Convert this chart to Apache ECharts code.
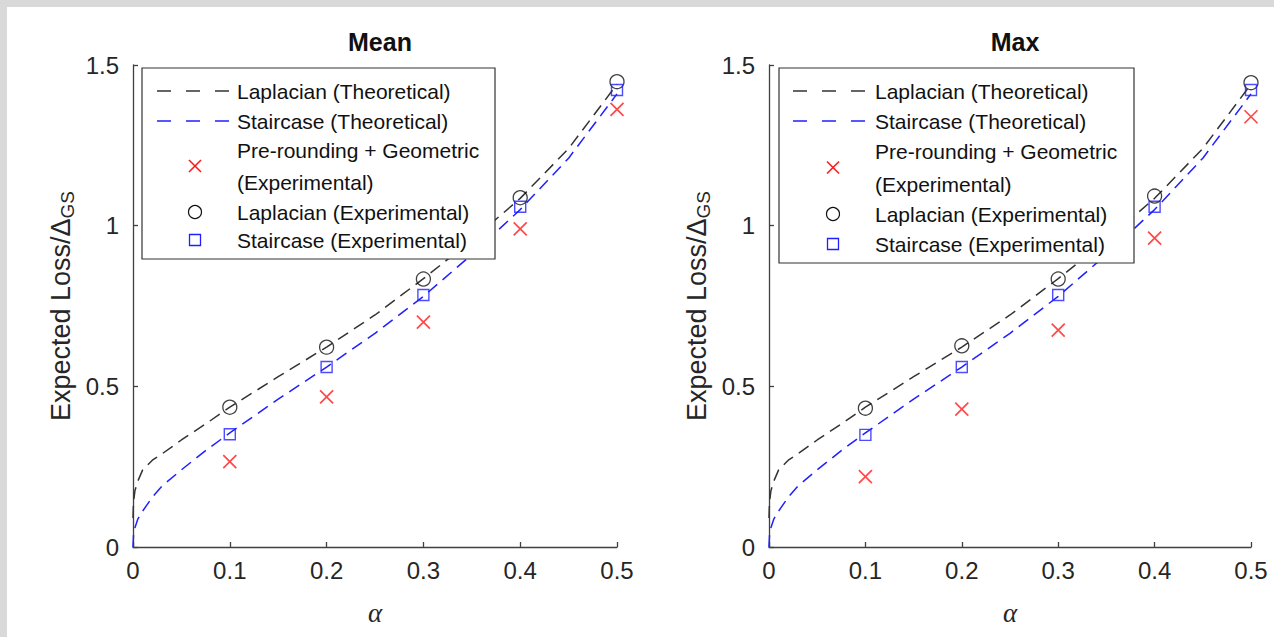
<!DOCTYPE html>
<html>
<head>
<meta charset="utf-8">
<script src="https://cdn.jsdelivr.net/npm/echarts@6/dist/echarts.min.js"></script>
<style>
  html, body { margin: 0; padding: 0; background: #d9d9d9; width: 1274px; height: 637px; overflow: hidden; }
  #chart { position: absolute; left: 7px; top: 7px; width: 1267px; height: 630px; background: #ffffff; }
</style>
</head>
<body>
<div id="chart"></div>
<script>
// ---------------- data ----------------
const xTicks = [0, 0.1, 0.2, 0.3, 0.4, 0.5];
const yTicks = [0, 0.5, 1, 1.5];
const panelTitles = ['Mean', 'Max'];

// theoretical curves
const alphaTheory = [0, 0.0005, 0.002, 0.005, 0.01, 0.02, 0.03, 0.05, 0.075, 0.1, 0.15, 0.2, 0.25, 0.3, 0.35, 0.4, 0.45, 0.5];
const laplacianTheory = [0.09, 0.14, 0.175, 0.205, 0.24, 0.27, 0.29, 0.333, 0.383, 0.435, 0.53, 0.622, 0.722, 0.835, 0.955, 1.085, 1.24, 1.44];
const staircaseTheory = [0, 0.035, 0.06, 0.087, 0.112, 0.155, 0.19, 0.24, 0.3, 0.355, 0.46, 0.56, 0.665, 0.78, 0.91, 1.05, 1.21, 1.41];

// experimental points
const alphaExp = [0.1, 0.2, 0.3, 0.4, 0.5];
const meanPreRounding = [0.266, 0.467, 0.700, 0.990, 1.362];
const meanLaplacian = [0.435, 0.622, 0.834, 1.087, 1.448];
const meanStaircase = [0.351, 0.560, 0.784, 1.059, 1.422];
const maxPreRounding = [0.219, 0.429, 0.675, 0.961, 1.339];
const maxLaplacian = [0.432, 0.626, 0.834, 1.092, 1.445];
const maxStaircase = [0.349, 0.560, 0.784, 1.059, 1.422];

const legendNames = ['Laplacian (Theoretical)', 'Staircase (Theoretical)', 'Pre-rounding + Geometric', '(Experimental)', 'Laplacian (Experimental)', 'Staircase (Experimental)'];

// ---------------- styling ----------------
const FONT = '"Liberation Sans", Arial, Helvetica, sans-serif';
const AX = '#404040';
const TXT = '#262626';
const BLACK = '#333333';
const BLUE = '#2020ff';
const RED = '#ff1a1a';

const zip = (xs, ys) => xs.map((x, i) => [x, ys[i]]);

const grids = [
  { left: 126, top: 58, width: 484, height: 482 },
  { left: 762, top: 58, width: 482, height: 482 }
];

const xAxes = grids.map((g, i) => ({
  type: 'value', gridIndex: i, min: 0, max: 0.5, interval: 0.1,
  name: 'α', nameLocation: 'middle', nameGap: 52,
  nameTextStyle: { fontFamily: '"Liberation Serif", "DejaVu Serif", serif', fontStyle: 'italic', fontSize: 27, color: TXT },
  axisLine: { show: true, lineStyle: { color: AX, width: 1.3 } },
  axisTick: { show: true, inside: true, length: 5, lineStyle: { color: AX, width: 1.3 } },
  axisLabel: { fontFamily: FONT, fontSize: 24, color: TXT, margin: 11, formatter: v => String(+v.toFixed(1)) },
  splitLine: { show: false }
}));

const yAxes = grids.map((g, i) => ({
  type: 'value', gridIndex: i, min: 0, max: 1.5, interval: 0.5,
  name: '{a|Expected Loss/Δ}{b|GS}', nameLocation: 'middle', nameGap: 56, nameRotate: 90,
  nameTextStyle: {
    color: TXT,
    rich: {
      a: { fontFamily: FONT, fontSize: 27, color: TXT, lineHeight: 32, verticalAlign: 'middle' },
      b: { fontFamily: FONT, fontSize: 19, color: TXT, lineHeight: 32, verticalAlign: 'bottom', padding: [13, 0, 0, 0] }
    }
  },
  axisLine: { show: true, lineStyle: { color: AX, width: 1.3 } },
  axisTick: { show: true, inside: true, length: 5, lineStyle: { color: AX, width: 1.3 } },
  axisLabel: { fontFamily: FONT, fontSize: 24, color: TXT, margin: 14, formatter: v => String(+v.toFixed(1)) },
  splitLine: { show: false }
}));

const X_PATH = 'path://M0,0L10,10M10,0L0,10';

function panelSeries(i, pre, lap, stair) {
  return [
    { type: 'line', xAxisIndex: i, yAxisIndex: i, data: zip(alphaTheory, laplacianTheory), showSymbol: false, smooth: false,
      lineStyle: { color: BLACK, width: 1.5, type: [12, 7] }, z: 2, silent: true },
    { type: 'line', xAxisIndex: i, yAxisIndex: i, data: zip(alphaTheory, staircaseTheory), showSymbol: false, smooth: false,
      lineStyle: { color: BLUE, width: 1.5, type: [12, 7] }, z: 2, silent: true },
    { type: 'scatter', xAxisIndex: i, yAxisIndex: i, data: zip(alphaExp, pre), symbol: X_PATH, symbolSize: 13,
      itemStyle: { color: 'rgba(0,0,0,0)', borderColor: RED, borderWidth: 1.7 }, z: 5 },
    { type: 'scatter', xAxisIndex: i, yAxisIndex: i, data: zip(alphaExp, lap), symbol: 'circle', symbolSize: 14,
      itemStyle: { color: 'rgba(0,0,0,0)', borderColor: '#111', borderWidth: 1.3 }, z: 5 },
    { type: 'scatter', xAxisIndex: i, yAxisIndex: i, data: zip(alphaExp, stair), symbol: 'rect', symbolSize: 11,
      itemStyle: { color: 'rgba(0,0,0,0)', borderColor: BLUE, borderWidth: 1.4 }, z: 5 }
  ];
}

// legend drawn as graphic group
function legendGraphic(box, rows, lineX0, lineX1, symX, textX) {
  const els = [];
  els.push({ type: 'rect', shape: { x: box.x, y: box.y, width: box.w, height: box.h },
    style: { fill: '#fff', stroke: '#333', lineWidth: 1.2 }, z: 10 });
  const txt = (t, y) => ({ type: 'text', z: 11, style: { text: t, x: textX, y: y, fontFamily: FONT, fontSize: 21, fill: '#111', align: 'left', verticalAlign: 'middle' } });
  els.push({ type: 'line', z: 11, shape: { x1: lineX0, y1: rows[0], x2: lineX1, y2: rows[0] }, style: { stroke: BLACK, lineWidth: 1.4, lineDash: [14, 15] } });
  els.push(txt(legendNames[0], rows[0]));
  els.push({ type: 'line', z: 11, shape: { x1: lineX0, y1: rows[1], x2: lineX1, y2: rows[1] }, style: { stroke: BLUE, lineWidth: 1.4, lineDash: [14, 15] } });
  els.push(txt(legendNames[1], rows[1]));
  const cy = (rows[2] + rows[3]) / 2;
  els.push({ type: 'line', z: 11, shape: { x1: symX - 6, y1: cy - 6, x2: symX + 6, y2: cy + 6 }, style: { stroke: RED, lineWidth: 1.6 } });
  els.push({ type: 'line', z: 11, shape: { x1: symX + 6, y1: cy - 6, x2: symX - 6, y2: cy + 6 }, style: { stroke: RED, lineWidth: 1.6 } });
  els.push(txt(legendNames[2], rows[2]));
  els.push(txt(legendNames[3], rows[3]));
  els.push({ type: 'circle', z: 11, shape: { cx: symX, cy: rows[4], r: 6.5 }, style: { fill: 'none', stroke: '#111', lineWidth: 1.2 } });
  els.push(txt(legendNames[4], rows[4]));
  els.push({ type: 'rect', z: 11, shape: { x: symX - 5.5, y: rows[5] - 5.5, width: 11, height: 11 }, style: { fill: 'none', stroke: BLUE, lineWidth: 1.3 } });
  els.push(txt(legendNames[5], rows[5]));
  return els;
}

const graphics = [
  ...legendGraphic({ x: 135, y: 61, w: 353, h: 191 }, [84, 114, 143, 175, 205, 233], 150, 222, 188, 230),
  ...legendGraphic({ x: 772, y: 61, w: 355, h: 195 }, [84, 114, 144, 177, 207, 237], 786, 861, 826, 868)
];

const option = {
  animation: false,
  backgroundColor: '#ffffff',
  title: [
    { text: panelTitles[0], left: 368, top: 17, textAlign: 'center', textStyle: { fontFamily: FONT, fontWeight: 'bold', fontSize: 25, color: '#111' } },
    { text: panelTitles[1], left: 1003, top: 17, textAlign: 'center', textStyle: { fontFamily: FONT, fontWeight: 'bold', fontSize: 25, color: '#111' } }
  ],
  grid: grids,
  xAxis: xAxes,
  yAxis: yAxes,
  series: [
    ...panelSeries(0, meanPreRounding, meanLaplacian, meanStaircase),
    ...panelSeries(1, maxPreRounding, maxLaplacian, maxStaircase)
  ],
  graphic: graphics
};

const chart = echarts.init(document.getElementById('chart'), null, { renderer: 'svg' });
chart.setOption(option);
</script>
</body>
</html>
